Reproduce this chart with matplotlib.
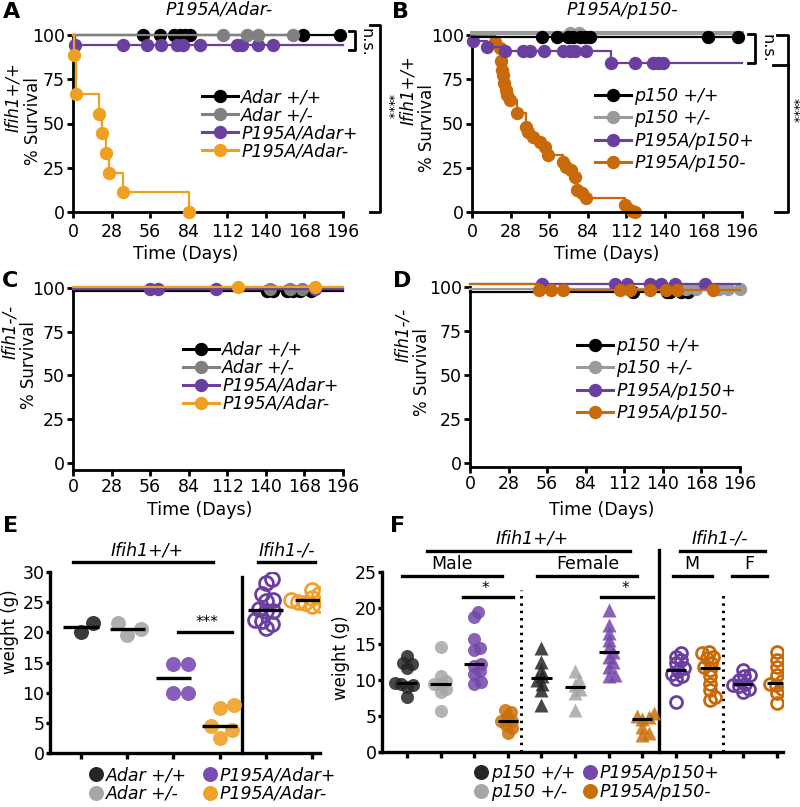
import numpy as np
import matplotlib
matplotlib.use('Agg')
import matplotlib.pyplot as plt
from matplotlib.lines import Line2D

plt.rcParams['font.family'] = ['DejaVu Sans']
FS = 12.5

# ---------------- survival data (days) ----------------
# Panel A  (Ifih1+/+, Adar series)
a_wt_cens = [51, 63, 73, 78, 81, 85, 167, 194]
a_het_cens = [109, 126, 134, 160]
a_p195_ev_days, a_p195_ev_surv = [1.5], [94.4]
a_p195_cens = [36, 54, 64, 75.5, 80, 92, 119, 123, 134, 145]
a_null_ev_days = [1, 2, 19, 21, 24, 26, 36, 84]
a_null_ev_surv = [88.9, 66.7, 55.6, 44.4, 33.3, 22.2, 11.1, 0]

# Panel B  (Ifih1+/+, p150 series)
b_wt_cens = [51, 62, 70, 73.5, 78.5, 82, 85.5, 171.5, 193]
b_het_cens = [71, 78]
b_p195_ev_days, b_p195_ev_surv = [0.5, 11, 24, 101], [96.6, 93.4, 90.8, 84.2]
b_p195_cens = [37, 42, 52, 66, 71, 75, 83, 118, 131.5, 135, 139]
b_null_ev_days = [17, 20, 21, 21.5, 22.5, 23.5, 24.5, 25.5, 27.5, 32.5, 39.5, 41, 44.5,
                  49, 53, 55.5, 66, 68.5, 72, 74.5, 76, 79.5, 83, 111, 116, 118]
b_null_ev_surv = [96.3, 92.6, 85.2, 80.2, 77.4, 72.7, 68.9, 66.1, 63.3, 55.8, 48.2, 45.4, 42.6,
                  39.7, 36.9, 32.4, 28.4, 25.6, 23.7, 20.0, 12.4, 10.6, 7.7, 4.0, 0.8, 0]

# Panel C  (Ifih1-/-, Adar series)
c_wt_cens = [140.5, 145, 155, 160, 165, 173]
c_het_cens = [143, 157.5, 166]
c_p195_cens = [56, 62, 104, 176]
c_null_cens = [120, 176]

# Panel D  (Ifih1-/-, p150 series)
d_wt_cens = [118, 143, 145.5, 153, 158]
d_het_cens = [157, 164, 181, 187, 196]
d_p195_cens = [52, 105, 114, 130.5, 139, 149, 170.5]
d_null_ev_days, d_null_ev_surv = [50], [98.1]
d_null_cens = [59, 67.5, 109, 116, 130.5, 142.5, 150, 176.5]

# ---------------- weights (g) ----------------
e_values = [
    [20.1, 21.6],
    [19.6, 21.6, 20.6],
    [14.7, 14.7, 9.9, 10.0],
    [7.9, 7.4, 4.5, 3.8, 2.5],
    [28.8, 28.1, 26.3, 25.2, 25.4, 23.6, 23.5, 23.8, 22.1, 21.8, 20.7, 21.3],
    [27.0, 25.4, 26.3, 25.4, 25.7, 25.2, 24.6, 24.9, 25.0, 24.4],
]

f_values = [
    [13.4, 12.4, 12.2, 11.7, 9.6, 9.5, 9.3, 9.0, 7.6],
    [14.6, 10.6, 9.9, 9.4, 9.4, 8.7, 8.3, 5.7],
    [19.4, 18.7, 15.7, 14.5, 14.1, 12.2, 12.0, 11.3, 10.8, 9.7, 9.5],
    [5.9, 5.5, 4.8, 4.3, 4.3, 3.8, 3.4, 2.7],
    [14.4, 12.5, 11.4, 10.5, 10.0, 9.5, 8.6, 6.5],
    [11.2, 10.0, 9.3, 8.8, 8.2, 5.8],
    [19.7, 17.6, 16.5, 15.6, 14.6, 13.9, 13.2, 12.5, 11.8, 10.7, 10.5],
    [5.4, 5.0, 4.9, 4.6, 3.5, 2.6, 2.4],
    [13.7, 13.2, 12.8, 12.3, 11.6, 11.2, 10.9, 10.5, 10.2, 7.0],
    [13.9, 13.7, 13.2, 13.0, 12.3, 11.8, 11.4, 10.5, 9.5, 8.6, 7.7, 7.2],
    [11.4, 10.7, 10.5, 10.0, 9.5, 9.3, 9.1, 8.8, 8.4],
    [13.9, 12.8, 11.8, 10.7, 9.8, 9.5, 9.3, 8.8, 8.2, 6.8],
]

BLACK = '#000000'
PURPLE = '#6b3fa0'
GRAY_A = '#808080'
GRAY_B = '#9a9a9a'
ORANGE_A = '#f0a020'
ORANGE_B = '#c8690a'

fig = plt.figure(figsize=(8, 8.07), dpi=100)
W, H = 800, 807


def box(l, t, r, b):
    return [l / W, 1 - b / H, (r - l) / W, (b - t) / H]


def style(ax, lw=2.0):
    for s in ['top', 'right']:
        ax.spines[s].set_visible(False)
    for s in ['left', 'bottom']:
        ax.spines[s].set_linewidth(lw)
    ax.tick_params(width=lw, length=4.5, labelsize=FS, pad=1.5)


def km(ax, ev_days, ev_surv, cens, end, color, start=100, z=3, lw=1.6):
    xs = [0] + list(ev_days) + [end]
    ys = [start] + list(ev_surv) + [ev_surv[-1] if ev_surv else start]
    ax.step(xs, ys, where='post', color=color, lw=lw, clip_on=False, zorder=z)
    idx = np.searchsorted(xs, cens, side='right') - 1
    lvl = [ys[i] for i in idx]
    ax.plot(list(ev_days) + list(cens), list(ev_surv) + lvl, 'o', ms=8.6, color=color,
            lw=0, clip_on=False, zorder=z)


def surv_axes(rect, ylo, tickpad):
    ax = fig.add_axes(rect)
    ax.set_xlim(0, 196)
    ax.set_ylim(ylo, 100)
    ax.set_xticks(range(0, 197, 28))
    ax.set_yticks([0, 25, 50, 75, 100])
    style(ax)
    ax.tick_params(axis='x', pad=tickpad)
    ax.spines['left'].set_bounds(ylo, 100)
    return ax


def surv_legend(ax, labels, colors, x, y, spacing):
    handles = [Line2D([], [], color=c, lw=2.2, marker='o', ms=8.6) for c in colors]
    ax.legend(handles, labels, loc='upper left', bbox_to_anchor=(x / W, 1 - y / H),
              bbox_transform=fig.transFigure, frameon=False, borderpad=0, borderaxespad=0,
              handlelength=2.1, handletextpad=0.15, labelspacing=spacing,
              prop={'style': 'italic', 'size': FS})


adar_labels = ['Adar +/+', 'Adar +/-', 'P195A/Adar+', 'P195A/Adar-']
p150_labels = ['p150 +/+', 'p150 +/-', 'P195A/p150+', 'P195A/p150-']

# ---- A ----
axA = surv_axes(box(73, 35, 343, 212), 0, 3.5)
km(axA, [], [], a_wt_cens, 194, BLACK, z=3)
km(axA, [], [], a_het_cens, 160, GRAY_A, z=4)
km(axA, a_p195_ev_days, a_p195_ev_surv, a_p195_cens, 196, PURPLE, z=3)
km(axA, a_null_ev_days, a_null_ev_surv, [], 84, ORANGE_A, z=5)
surv_legend(axA, adar_labels, [BLACK, GRAY_A, PURPLE, ORANGE_A], 202, 88, 0.0)

# ---- B ----
axB = surv_axes(box(472, 35, 742, 212), 0, 3.5)
km(axB, b_null_ev_days, b_null_ev_surv, [], 118, ORANGE_B, z=2)
km(axB, b_p195_ev_days, b_p195_ev_surv, b_p195_cens, 196, PURPLE, z=3)
km(axB, [], [], b_het_cens, 196, GRAY_B, start=100.9, z=4, lw=3)
km(axB, [], [], b_wt_cens, 193, BLACK, start=98.7, z=5)
surv_legend(axB, p150_labels, [BLACK, GRAY_B, PURPLE, ORANGE_B], 595, 87, 0.25)

# ---- C ----
axC = surv_axes(box(73, 288, 343, 470), -4, 1.2)
km(axC, [], [], c_wt_cens, 196, BLACK, start=98.4, z=3)
km(axC, [], [], c_het_cens, 196, GRAY_A, start=99.4, z=4)
km(axC, [], [], c_p195_cens, 196, PURPLE, start=99.2, z=5)
km(axC, [], [], c_null_cens, 196, ORANGE_A, start=100.6, z=6)
surv_legend(axC, adar_labels, [BLACK, GRAY_A, PURPLE, ORANGE_A], 183, 341, 0.0)

# ---- D ----
axD = surv_axes(box(470, 287, 740, 467), -2.4, 1.2)
km(axD, [], [], d_wt_cens, 158, BLACK, start=97.2, z=3)
km(axD, [], [], d_het_cens, 196, GRAY_B, start=99.1, z=4)
km(axD, [], [], d_p195_cens, 196, PURPLE, start=101.9, z=5)
km(axD, d_null_ev_days, d_null_ev_surv, d_null_cens, 196, ORANGE_B, start=101.9, z=6)
surv_legend(axD, p150_labels, [BLACK, GRAY_B, PURPLE, ORANGE_B], 577, 337, 0.25)

# ---------------- scatter helpers ----------------
def swarm(ax, x0, vals, diam, factor):
    pts = ax.transData.transform(np.column_stack([np.full(len(vals), x0), vals]))
    ypx = pts[:, 1]
    d = diam * factor
    offs = np.zeros(len(vals))
    placed = []
    for i in np.argsort(vals):
        cands = [0.0]
        for px, py in placed:
            dy = abs(py - ypx[i])
            if dy < d:
                dx = np.sqrt(d * d - dy * dy)
                cands += [px + dx, px - dx]
        cands.sort(key=abs)
        for c in cands:
            if all((c - px) ** 2 + (ypx[i] - py) ** 2 >= d * d - 1e-6 for px, py in placed):
                offs[i] = c
                break
        placed.append((offs[i], ypx[i]))
    back = ax.transData.inverted().transform(np.column_stack([pts[:, 0] + offs, ypx]))
    return back[:, 0]


# ---- E ----
axE = fig.add_axes(box(50, 572, 320, 753))
axE.set_xlim(-0.67, 5.17)
axE.set_ylim(0, 30)
axE.set_yticks(range(0, 31, 5))
axE.set_xticks(range(6))
axE.set_xticklabels([])
style(axE, 2.4)
axE.tick_params(axis='y', length=3, pad=1)

e_colors = ['#262626', '#a6a6a6', '#7a4cb3', '#f0a128', '#6b3fa0', '#f0a128']
e_open = [False, False, False, False, True, True]
for i, vals in enumerate(e_values):
    fac = 0.5 if e_open[i] else 1.0
    xs = swarm(axE, i, vals, 15, fac)
    if e_open[i]:
        axE.plot(xs, vals, 'o', ms=10, mfc='none', mec=e_colors[i], mew=2.0, lw=0, zorder=3)
    else:
        axE.plot(xs, vals, 'o', ms=10.8, color=e_colors[i], alpha=0.9, mec='none', lw=0, zorder=3)
    med = np.median(vals)
    axE.plot([i - 0.38, i + 0.38], [med, med], color='black', lw=2.4, zorder=4,
             solid_capstyle='butt')

axE.plot([3.48, 3.48], [0, 29.2], color='black', lw=2.4, clip_on=False)
axE.plot([-0.17, 2.86], [31.7, 31.7], color='black', lw=2.4, clip_on=False)
axE.text(1.43, 33.5, 'Ifih1+/+', ha='center', va='center', style='italic', fontsize=FS)
axE.plot([3.83, 5.06], [31.7, 31.7], color='black', lw=2.4, clip_on=False)
axE.text(4.46, 33.5, 'Ifih1-/-', ha='center', va='center', style='italic', fontsize=FS)
axE.plot([2.1, 3.27], [20.1, 20.1], color='black', lw=2.4, clip_on=False)
axE.text(2.72, 21.7, '***', ha='center', va='center', fontsize=11)

# ---- F ----
axF = fig.add_axes(box(382, 572, 783, 752))
axF.set_xlim(-0.74, 11.18)
axF.set_ylim(0, 25)
axF.set_yticks(range(0, 26, 5))
axF.set_xticks(range(12))
axF.set_xticklabels([])
style(axF, 2.4)
axF.tick_params(axis='y', length=3, pad=1)

f_colors = ['#262626', '#a6a6a6', '#7447ab', '#c8700c'] * 2 + ['#6b3fa0', '#c8690a'] * 2
f_marker = ['o'] * 4 + ['^'] * 4 + ['o'] * 4
f_open = [False] * 8 + [True] * 4
for i, vals in enumerate(f_values):
    xs = swarm(axF, i, vals, 13, 0.5)
    if f_open[i]:
        axF.plot(xs, vals, 'o', ms=8.6, mfc='none', mec=f_colors[i], mew=2.0, lw=0, zorder=3)
    else:
        axF.plot(xs, vals, f_marker[i], ms=9.4, color=f_colors[i], alpha=0.85, mec='none',
                 lw=0, zorder=3)
    med = np.median(vals)
    axF.plot([i - 0.3, i + 0.3], [med, med], color='black', lw=2.2, zorder=4,
             solid_capstyle='butt')

axF.plot([3.4, 3.4], [0, 22.5], color='black', lw=2.2, ls=(0, (0.8, 1.6)), clip_on=False)
axF.plot([9.4, 9.4], [0, 22.2], color='black', lw=2.2, ls=(0, (0.8, 1.6)), clip_on=False)
axF.plot([7.5, 7.5], [0, 28.1], color='black', lw=2.4, clip_on=False)
hdr = [
    (0.59, 6.63, 27.9, 3.72, 29.6, 'Ifih1+/+', True),
    (8.12, 10.64, 27.9, 9.3, 29.6, 'Ifih1-/-', True),
    (-0.15, 2.82, 24.4, 1.34, 26.1, 'Male', False),
    (3.86, 6.84, 24.4, 5.38, 26.1, 'Female', False),
    (7.91, 9.07, 24.4, 8.47, 26.1, 'M', False),
    (9.66, 10.7, 24.4, 10.17, 26.1, 'F', False),
    (1.66, 3.15, 21.5, 2.32, 22.7, '*', False),
    (5.77, 7.31, 21.5, 6.48, 22.7, '*', False),
]
for x1, x2, yl, tx, ty, label, ital in hdr:
    axF.plot([x1, x2], [yl, yl], color='black', lw=2.4, clip_on=False)
    axF.text(tx, ty, label, ha='center', va='center', fontsize=11 if label == '*' else FS,
             style='italic' if ital else 'normal')


def dot_legend(labels, colors, x, y):
    handles = [Line2D([], [], lw=0, marker='o', ms=10.8, color=c, mec='none') for c in colors]
    fig.legend(handles, labels, loc='upper left', bbox_to_anchor=(x / W, 1 - y / H),
               frameon=False, borderpad=0, borderaxespad=0, handlelength=0.7,
               handletextpad=0.2, labelspacing=0.05, prop={'style': 'italic', 'size': FS})


dot_legend(['Adar +/+', 'Adar +/-'], ['#262626', '#a6a6a6'], 90, 766)
dot_legend(['P195A/Adar+', 'P195A/Adar-'], ['#7a4cb3', '#f0a128'], 204, 766)
dot_legend(['p150 +/+', 'p150 +/-'], ['#262626', '#a6a6a6'], 475, 764)
dot_legend(['P195A/p150+', 'P195A/p150-'], ['#7447ab', '#c8700c'], 584, 764)

# ---------------- overlay: letters, titles, labels, brackets ----------------
ov = fig.add_axes([0, 0, 1, 1], zorder=10)
ov.set_xlim(0, W)
ov.set_ylim(H, 0)
ov.axis('off')

for x, y, t in [(12, 12, 'A'), (400, 12, 'B'), (10, 281, 'C'), (402, 281, 'D'),
                (11, 526, 'E'), (398, 526, 'F')]:
    ov.text(x, y, t, ha='center', va='center', fontsize=16, fontweight='bold')
ov.text(219, 10, 'P195A/Adar-', ha='center', va='center', style='italic', fontsize=FS)
ov.text(622, 10, 'P195A/p150-', ha='center', va='center', style='italic', fontsize=FS)

for x, y in [(186, 254), (607, 254), (200, 510), (602, 510)]:
    ov.text(x, y, 'Time (Days)', ha='center', va='center', fontsize=FS)

for x1, y1, x2, y2, g in [(13, 97, 33, 121, 'Ifih1+/+'), (408, 90, 427, 128, 'Ifih1+/+'),
                          (10, 332, 29, 365, 'Ifih1-/-'), (403, 335, 422, 372, 'Ifih1-/-')]:
    ov.text(x1, y1, g, rotation=90, ha='center', va='center', style='italic', fontsize=12)
    ov.text(x2, y2, '% Survival', rotation=90, ha='center', va='center', fontsize=12)
ov.text(10, 632, 'weight (g)', rotation=90, ha='center', va='center', fontsize=12)
ov.text(341, 658, 'weight (g)', rotation=90, ha='center', va='center', fontsize=12)


def bracket(x, y1, y2, arm1, arm2=None):
    arm2 = arm1 if arm2 is None else arm2
    ov.plot([x - arm1, x, x, x - arm2], [y1, y1, y2, y2], color='black', lw=2.0)


bracket(355, 31, 50, 6)
ov.text(366, 42, 'n.s.', rotation=-90, ha='center', va='center', fontsize=11.5)
bracket(380, 25, 212, 10)
ov.text(388, 107, '****', rotation=-90, ha='center', va='center', fontsize=9)

bracket(755, 34, 63, 7)
ov.text(767, 48, 'n.s.', rotation=-90, ha='center', va='center', fontsize=11.5)
bracket(788, 35, 212, 11, 13)
ov.plot([773, 788], [65, 65], color='black', lw=2.0)
ov.text(793, 110, '****', rotation=-90, ha='center', va='center', fontsize=9)

fig.savefig('out.png', dpi=100)
